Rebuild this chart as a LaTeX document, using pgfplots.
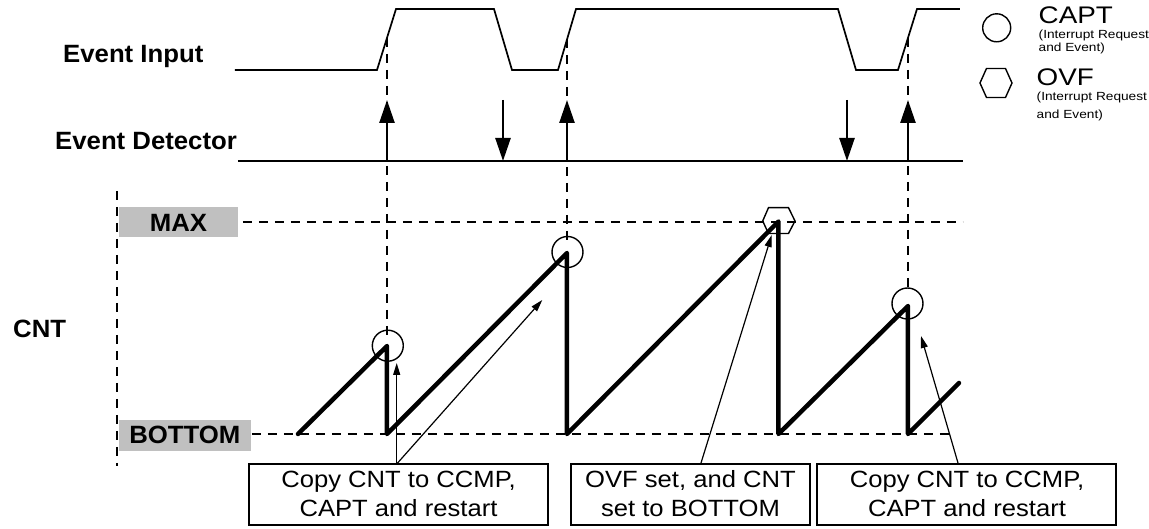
\documentclass[border=0pt]{standalone}
\usepackage{pgfplots}
\pgfplotsset{compat=1.18}
\usepackage{fontspec}
\setmainfont{Liberation Sans}
\newfontfamily\boxfont[FakeStretch=1.09]{Liberation Sans}
\newfontfamily\lblfont[FakeStretch=1.03]{Liberation Sans}
\usetikzlibrary{arrows.meta}
\definecolor{lblgray}{RGB}{192,192,192}
\newcommand\fs[2]{\fontsize{#1bp}{#2bp}\selectfont}
\newcommand\leg[2]{\scalebox{1.16}[1]{\fontsize{#1bp}{#1bp}\selectfont #2}}
\begin{document}
\begin{tikzpicture}
\begin{axis}[width=1149bp,height=529bp,scale only axis,
  xmin=0,xmax=1149,ymin=0,ymax=529,y dir=reverse,hide axis,clip=false]
% frame for bounding box
\addplot[draw=none] coordinates {(0,0) (1149,529)};
% gray label boxes
\addplot[fill=lblgray,draw=none] coordinates {(119,207) (238,207) (238,237) (119,237)} -- cycle;
\addplot[fill=lblgray,draw=none] coordinates {(119,420) (251,420) (251,451) (119,451)} -- cycle;
% dashed reference lines
\addplot[black,line width=1.8bp,dash pattern=on 9bp off 7bp] coordinates {(243,221.7) (963,221.7)};
\addplot[black,line width=1.8bp,dash pattern=on 9bp off 7bp] coordinates {(252,434.3) (952,434.3)};
\addplot[black,line width=1.8bp,dash pattern=on 9bp off 7bp] coordinates {(117,191) (117,466)};
\addplot[black,line width=1.8bp,dash pattern=on 9bp off 7bp] coordinates {(387,38) (387,335)};
\addplot[black,line width=1.8bp,dash pattern=on 9bp off 7bp] coordinates {(567,39) (567,242)};
\addplot[black,line width=1.8bp,dash pattern=on 9bp off 7bp] coordinates {(908,38) (908,293)};
% event input waveform
\addplot[black,line width=1.7bp] coordinates {(235,70) (377,70) (396,9) (494,9) (512,70) (558,70) (576,9) (838,9) (856,70) (898,70) (917,9) (960,9)};
% event detector line
\addplot[black,line width=1.7bp] coordinates {(238,161) (963,161)};
% event detector arrows
\addplot[black,line width=2.5bp,-{Triangle[length=23bp,width=15bp]}] coordinates {(387,161) (387,100)};
\addplot[black,line width=2.5bp,-{Triangle[length=23bp,width=15bp]}] coordinates {(567,161) (567,100)};
\addplot[black,line width=2.5bp,-{Triangle[length=23bp,width=15bp]}] coordinates {(908,161) (908,100)};
\addplot[black,line width=2.5bp,-{Triangle[length=23bp,width=15bp]}] coordinates {(503,100) (503,161)};
\addplot[black,line width=2.5bp,-{Triangle[length=23bp,width=15bp]}] coordinates {(847,100) (847,161)};
% counter sawtooth
\addplot[black,line width=4.5bp,line cap=round,line join=round] coordinates {(298,434) (387,346) (387,434) (567,253) (567,434) (778.5,221.5) (778.5,434) (908,306) (908,434) (959,383)};
% CAPT circles
\addplot[black,only marks,mark=o,mark size=15.5bp,mark options={line width=1.4bp}] coordinates {(387.8,345.7) (567.5,252) (907.5,303.5)};
\addplot[black,only marks,mark=o,mark size=14bp,mark options={line width=1.4bp}] coordinates {(996.7,27.8)};
% OVF hexagons
\addplot[black,line width=1.4bp] coordinates {(762.7,221) (768.5,207.7) (788.5,207.7) (795,221) (788.5,233.5) (768.5,233.5)} -- cycle;
\addplot[black,line width=1.4bp] coordinates {(980,83) (986.5,68.5) (1005.5,68.5) (1012,83) (1005.5,97.5) (986.5,97.5)} -- cycle;
% annotation boxes
\addplot[black,line width=1.6bp] coordinates {(249,464) (548,464) (548,525) (249,525)} -- cycle;
\addplot[black,line width=1.6bp] coordinates {(571,464) (810,464) (810,525) (571,525)} -- cycle;
\addplot[black,line width=1.6bp] coordinates {(817,464) (1116,464) (1116,525) (817,525)} -- cycle;
% thin annotation arrows
\addplot[black,line width=1.2bp,-{Triangle[length=12bp,width=7bp]}] coordinates {(396.7,464) (396.7,363)};
\addplot[black,line width=1.2bp,-{Triangle[length=12bp,width=7bp]}] coordinates {(396.7,464) (542.3,300)};
\addplot[black,line width=1.2bp,-{Triangle[length=12bp,width=7bp]}] coordinates {(700.7,464) (771.7,235)};
\addplot[black,line width=1.2bp,-{Triangle[length=12bp,width=7bp]}] coordinates {(958.3,464) (921,336)};
% labels
\node[anchor=base west,inner sep=0] at (axis cs:63,63) {\lblfont\fs{25}{30}\bfseries Event Input};
\node[anchor=base west,inner sep=0] at (axis cs:55,150) {\lblfont\fs{25}{30}\bfseries Event Detector};
\node[anchor=base west,inner sep=0] at (axis cs:13,337.3) {\lblfont\fs{25}{30}\bfseries CNT};
\node[anchor=base,inner sep=0] at (axis cs:178.5,231.7) {\lblfont\fs{25}{30}\bfseries MAX};
\node[anchor=base,inner sep=0] at (axis cs:184.8,444) {\lblfont\fs{25}{30}\bfseries BOTTOM};
% box texts
\node[anchor=base,inner sep=0] at (axis cs:398.5,487.7) {\boxfont\fs{23.5}{30}Copy CNT to CCMP,};
\node[anchor=base,inner sep=0] at (axis cs:398.5,516.7) {\boxfont\fs{23.5}{30}CAPT and restart};
\node[anchor=base,inner sep=0] at (axis cs:690.5,487.7) {\boxfont\fs{23.5}{30}OVF set, and CNT};
\node[anchor=base,inner sep=0] at (axis cs:690.5,516.7) {\boxfont\fs{23.5}{30}set to BOTTOM};
\node[anchor=base,inner sep=0] at (axis cs:967,487.7) {\boxfont\fs{23.5}{30}Copy CNT to CCMP,};
\node[anchor=base,inner sep=0] at (axis cs:967,516.7) {\boxfont\fs{23.5}{30}CAPT and restart};
% legend
\node[anchor=base west,inner sep=0] at (axis cs:1038.5,23.5) {\leg{24}{CAPT}};
\node[anchor=base west,inner sep=0] at (axis cs:1038.5,38.5) {\leg{11.8}{(Interrupt Request}};
\node[anchor=base west,inner sep=0] at (axis cs:1038.5,52) {\leg{11.8}{and Event)}};
\node[anchor=base west,inner sep=0] at (axis cs:1036.5,86) {\leg{24}{OVF}};
\node[anchor=base west,inner sep=0] at (axis cs:1036.5,101) {\leg{11.8}{(Interrupt Request}};
\node[anchor=base west,inner sep=0] at (axis cs:1036.5,119) {\leg{11.8}{and Event)}};
\end{axis}
\end{tikzpicture}
\end{document}
